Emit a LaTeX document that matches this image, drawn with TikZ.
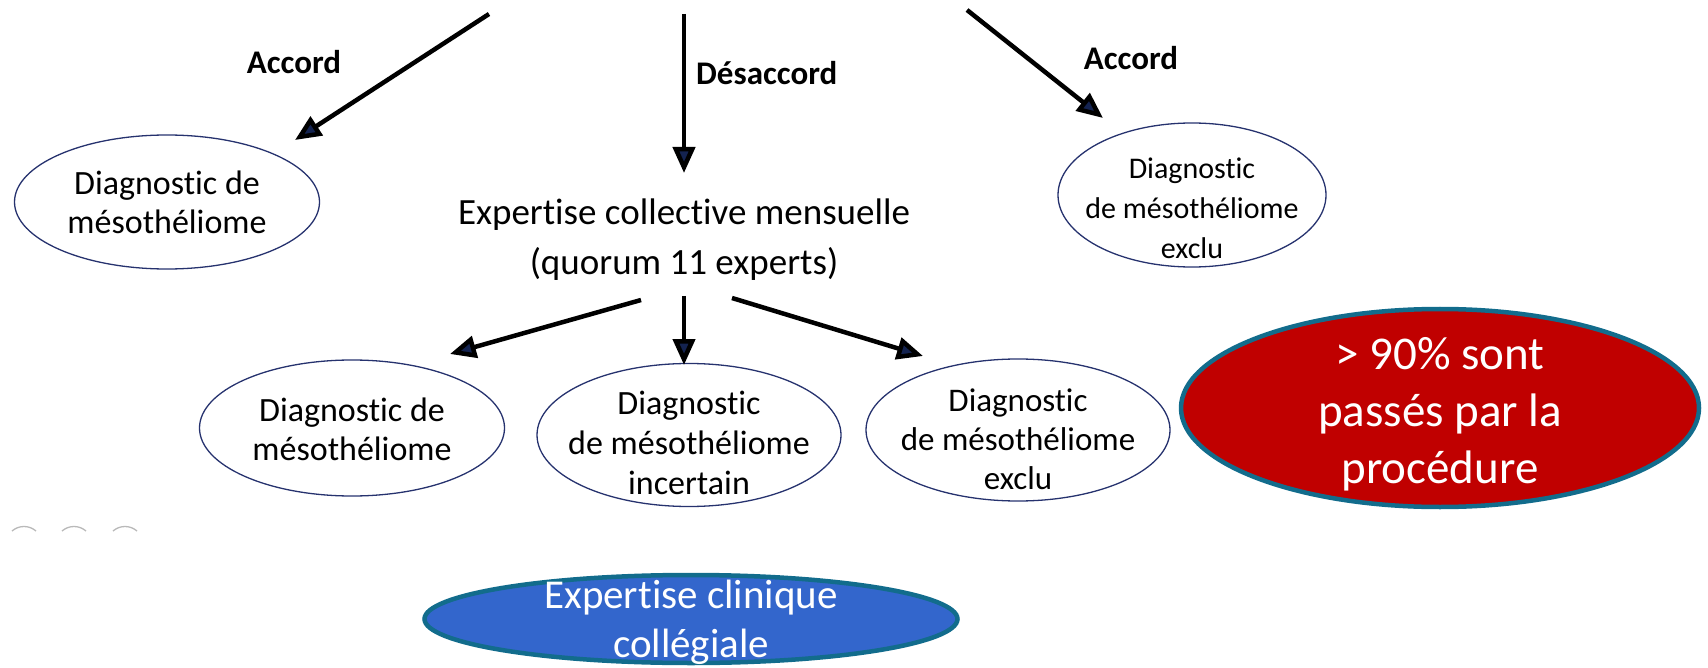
\documentclass[tikz,border=0pt]{standalone}
\usepackage{fontspec}
\setmainfont{Carlito}[Ligatures=NoCommon]
\usetikzlibrary{shapes.geometric,arrows.meta}
\definecolor{ellblue}{RGB}{38,50,110}
\definecolor{headblue}{RGB}{20,35,80}
\definecolor{tealb}{RGB}{18,108,140}
\definecolor{redf}{RGB}{192,0,0}
\definecolor{bluef}{RGB}{51,102,204}
\tikzset{
  diag/.style={ellipse, draw=ellblue, line width=1.3pt, inner sep=0pt},
  dtext/.style={align=center, inner sep=0pt, font=\fontsize{34}{39}\selectfont},
  lbl/.style={font=\bfseries\fontsize{33}{38}\selectfont, inner sep=0pt},
  arr/.style={line width=4.5pt, draw=black, -{Triangle[length=26pt,width=22pt,fill=headblue]}},
  bigell/.style={ellipse, draw=tealb, line width=4.5pt, inner sep=0pt},
  btext/.style={align=center, inner sep=0pt, text=white},
  smallarc/.style={draw=gray!55, line width=1.3pt}
}
\begin{document}
\begin{tikzpicture}[x=1pt,y=-1pt]
\useasboundingbox (0,0) rectangle (1708,668);

% ellipses
\node[diag, minimum width=305pt, minimum height=134pt] (topL) at (167,202) {};
\node[diag, minimum width=268pt, minimum height=144pt] (topR) at (1192,195) {};
\node[diag, minimum width=305pt, minimum height=136pt] (botL) at (352,428) {};
\node[diag, minimum width=304pt, minimum height=143pt] (botM) at (689,435) {};
\node[diag, minimum width=304pt, minimum height=142pt] (botR) at (1018,430) {};
\node[bigell, fill=redf, minimum width=518pt, minimum height=198pt] (red) at (1440,408) {};
\node[bigell, fill=bluef, minimum width=533pt, minimum height=88pt] (blue) at (691,619) {};

% texts (yshift is in page direction: negative moves down)
\node[dtext] (topLt) at (topL) {Diagnostic de\\mésothéliome};
\node[dtext, font=\fontsize{30}{40}\selectfont] (topRt) at ([yshift=-13pt]topR.center) {Diagnostic\\de mésothéliome\\exclu};
\node[font=\fontsize{37}{50}\selectfont, align=center, inner sep=0pt] (ecm) at (684,240) {Expertise collective mensuelle\\(quorum 11 experts)};
\node[dtext] (botLt) at ([yshift=-1pt]botL.center) {Diagnostic de\\mésothéliome};
\node[dtext, font=\fontsize{34}{40}\selectfont] (botMt) at ([yshift=-8pt]botM.center) {Diagnostic\\de mésothéliome\\incertain};
\node[dtext, font=\fontsize{33}{39}\selectfont] (botRt) at ([yshift=-9pt]botR.center) {Diagnostic\\de mésothéliome\\exclu};
\node[btext, font=\fontsize{47}{57}\selectfont] (redt) at ([yshift=-6pt]red.center) {> 90\% sont\\passés par la\\procédure};
\node[btext, font=\fontsize{41}{49}\selectfont] (bluet) at ([yshift=-3pt]blue.center) {Expertise clinique\\collégiale};

% labels
\node[lbl] (acL) at (294,62) {Accord};
\node[lbl, anchor=west] (des) at (696,73) {Désaccord};
\node[lbl] (acR) at (1131,58) {Accord};

% arrow ends
\coordinate (s1) at (489,14);
\coordinate (t1) at (295,140);
\coordinate (s2) at (684,14);
\coordinate (t2) at (684,173);
\coordinate (s3) at (967,10);
\coordinate (t3) at (1103,118);
\coordinate (s4) at (641,300);
\coordinate (t4) at (450,354);
\coordinate (s5) at (684,296);
\coordinate (t5) at (684,365);
\coordinate (s6) at (732,298);
\coordinate (t6) at (923,356);

\draw[arr] (s1) -- (t1);
\draw[arr] (s2) -- (t2);
\draw[arr] (s3) -- (t3);
\draw[arr] (s4) -- (t4);
\draw[arr] (s5) -- (t5);
\draw[arr] (s6) -- (t6);

% small arcs
\foreach \cx in {24,74,125}{
  \draw[smallarc] (\cx-12,531) .. controls (\cx-5,525) and (\cx+5,525) .. (\cx+12,531);
}
\end{tikzpicture}
\end{document}
